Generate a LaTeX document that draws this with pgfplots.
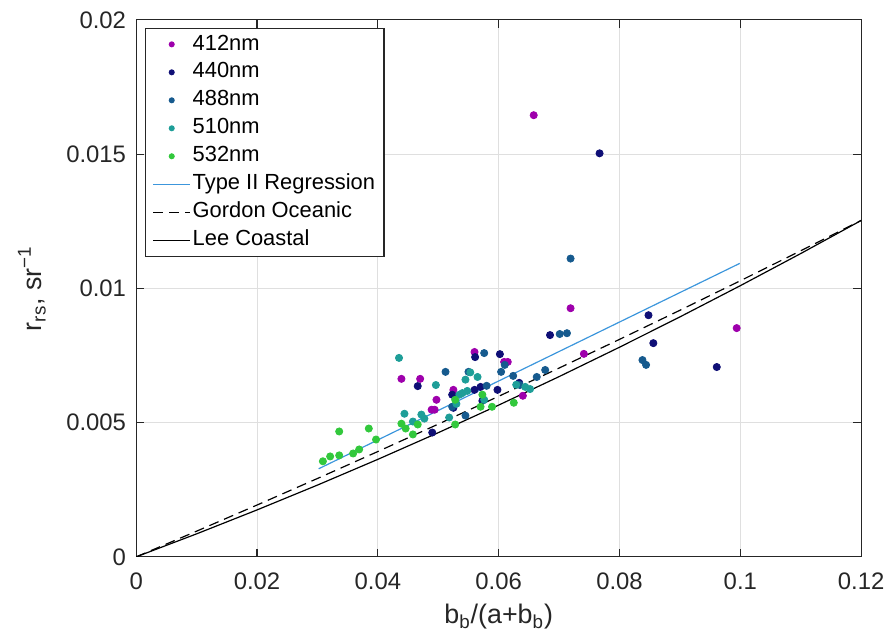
\documentclass[border=0pt]{standalone}
\usepackage{pgfplots}
\pgfplotsset{compat=1.18}
\usepackage{fontspec}
\setmainfont{Liberation Sans}
\definecolor{c412}{RGB}{158,0,172}
\definecolor{c440}{RGB}{15,15,118}
\definecolor{c488}{RGB}{22,90,142}
\definecolor{c510}{RGB}{30,158,152}
\definecolor{c532}{RGB}{50,200,60}
\definecolor{creg}{RGB}{60,150,220}
\definecolor{axc}{RGB}{38,38,38}
\begin{document}
\begin{tikzpicture}
\begin{axis}[
  name=main,
  scale only axis,
  width=364.5pt, height=270pt,
  xmin=0, xmax=0.12, ymin=0, ymax=0.02,
  xtick={0,0.02,0.04,0.06,0.08,0.1,0.12},
  xticklabels={0,0.02,0.04,0.06,0.08,0.1,0.12},
  ytick={0,0.005,0.01,0.015,0.02},
  yticklabels={0,0.005,0.01,0.015,0.02},
  scaled ticks=false,
  grid=major,
  major grid style={gray!25, line width=0.5pt},
  axis line style={axc, line width=0.6pt},
  tick style={axc, line width=0.6pt},
  tick align=inside,
  major tick length=4pt,
  ticklabel style={font=\fontsize{12}{14}\selectfont, text=axc},
  xticklabel style={yshift=-4.5pt},
  yticklabel style={xshift=-1.6pt},
  xlabel={b\textsubscript{b}/(a+b\textsubscript{b})},
  ylabel={r\textsubscript{rs}, sr\textsuperscript{−1}},
  label style={font=\fontsize{13.5}{16}\selectfont, text=axc},
  xlabel style={yshift=-0.5pt},
  ylabel style={yshift=3.5pt},
  legend style={at={(0,1)}, anchor=north west, xshift=4.5pt, yshift=-4pt,
    font=\fontsize{11}{13}\selectfont, draw=axc, line width=0.6pt,
    row sep=0.77pt, inner xsep=3.5pt, inner ysep=1.35pt, text=black,
    nodes={inner sep=1pt, text height=8.5pt, text depth=2.8pt}},
  legend cell align=left,
  legend image code/.code={\draw[mark repeat=2,mark phase=2,#1] plot coordinates {(0pt,0pt) (9.25pt,0pt) (18.5pt,0pt)};},
]
\addplot[only marks, mark=*, mark size=1.8pt, color=c412, legend image post style={mark size=1.2pt}] table {
0.0658 0.01645
0.0719 0.00926
0.0994 0.00852
0.0741 0.00756
0.0560 0.00763
0.0609 0.00726
0.0615 0.00726
0.0439 0.00663
0.0470 0.00663
0.0497 0.00585
0.0489 0.00548
0.0494 0.00548
0.0525 0.00622
0.0640 0.00600
};
\addlegendentry{412nm}
\addplot[only marks, mark=*, mark size=1.8pt, color=c440, legend image post style={mark size=1.2pt}] table {
0.0767 0.01503
0.0848 0.00900
0.0856 0.00796
0.0961 0.00707
0.0685 0.00826
0.0602 0.00755
0.0561 0.00744
0.0466 0.00636
0.0490 0.00463
0.0570 0.00633
0.0560 0.00622
0.0523 0.00604
0.0598 0.00622
0.0525 0.00555
0.0573 0.00581
0.0634 0.00648
};
\addlegendentry{440nm}
\addplot[only marks, mark=*, mark size=1.8pt, color=c488, legend image post style={mark size=1.2pt}] table {
0.0719 0.01111
0.0701 0.00830
0.0713 0.00833
0.0838 0.00733
0.0844 0.00715
0.0576 0.00759
0.0610 0.00715
0.0604 0.00689
0.0512 0.00689
0.0550 0.00689
0.0580 0.00637
0.0624 0.00674
0.0677 0.00696
0.0663 0.00670
0.0523 0.00559
0.0545 0.00526
0.0635 0.00640
};
\addlegendentry{488nm}
\addplot[only marks, mark=*, mark size=1.8pt, color=c510, legend image post style={mark size=1.2pt}] table {
0.0435 0.00741
0.0496 0.00640
0.0444 0.00533
0.0472 0.00530
0.0477 0.00515
0.0458 0.00504
0.0545 0.00660
0.0565 0.00670
0.0548 0.00618
0.0535 0.00604
0.0576 0.00585
0.0530 0.00570
0.0518 0.00519
0.0629 0.00641
0.0644 0.00633
0.0652 0.00625
0.0553 0.00687
0.0540 0.00610
};
\addlegendentry{510nm}
\addplot[only marks, mark=*, mark size=1.8pt, color=c532, legend image post style={mark size=1.2pt}] table {
0.0309 0.00356
0.0321 0.00374
0.0336 0.00378
0.0336 0.00467
0.0359 0.00385
0.0369 0.00400
0.0385 0.00478
0.0397 0.00437
0.0439 0.00496
0.0446 0.00478
0.0466 0.00493
0.0458 0.00456
0.0528 0.00585
0.0528 0.00493
0.0573 0.00604
0.0570 0.00559
0.0589 0.00559
0.0625 0.00574
};
\addlegendentry{532nm}
\addplot[creg, line width=0.6pt] coordinates {(0.0302,0.00328) (0.0999,0.01093)};
\addlegendentry{Type II Regression}
\addplot[black, dash pattern=on 5pt off 3pt, line width=0.6pt] coordinates {
(0,0) (0.01,0.000957) (0.02,0.001930) (0.03,0.002919) (0.04,0.003923) (0.05,0.004944)
(0.06,0.005980) (0.07,0.007032) (0.08,0.008100) (0.09,0.009184) (0.10,0.010284)
(0.11,0.011400) (0.12,0.012531)};
\addlegendentry{Gordon Oceanic}
\addplot[black, line width=0.6pt] coordinates {
(0,0) (0.01,0.000857) (0.02,0.001748) (0.03,0.002673) (0.04,0.003632) (0.05,0.004625)
(0.06,0.005652) (0.07,0.006713) (0.08,0.007808) (0.09,0.008937) (0.10,0.010100)
(0.11,0.011297) (0.12,0.012528)};
\addlegendentry{Lee Coastal}
\end{axis}
\path ([xshift=-68.5pt,yshift=-40.5pt]main.south west) ([xshift=12.5pt,yshift=10pt]main.north east);
\end{tikzpicture}
\end{document}
